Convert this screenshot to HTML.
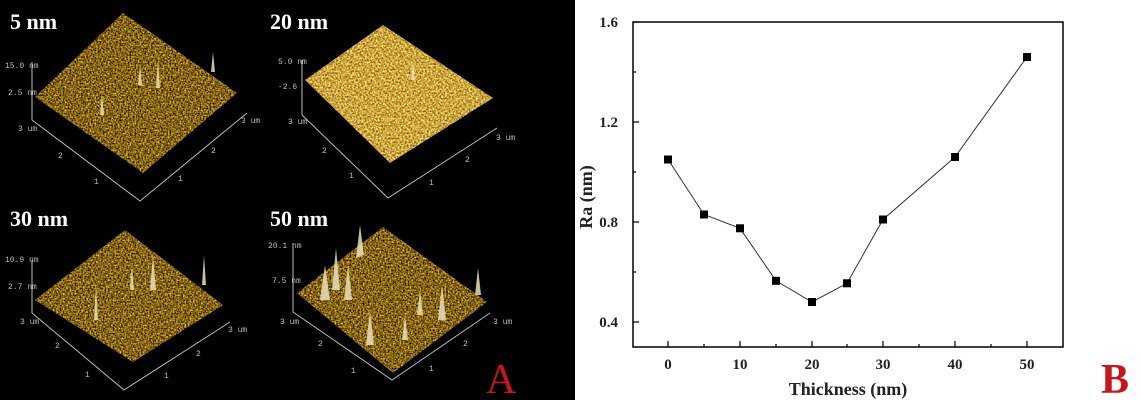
<!DOCTYPE html>
<html><head><meta charset="utf-8"><style>
html,body{margin:0;padding:0;background:#fff;width:1140px;height:400px;overflow:hidden}
svg{display:block}
</style></head><body>
<svg width="1140" height="400" viewBox="0 0 1140 400" xmlns="http://www.w3.org/2000/svg">
<defs>
<filter id="n1" x="0" y="0" width="100%" height="100%" color-interpolation-filters="sRGB"><feTurbulence type="fractalNoise" baseFrequency="0.6" numOctaves="2" seed="3"/>
<feColorMatrix type="matrix" values="1.6 0 0 0 -0.28  1.35 0 0 0 -0.28  0.6 0 0 0 -0.25  0 0 0 0 1"/><feComposite operator="in" in2="SourceAlpha"/></filter>
<filter id="n2" x="0" y="0" width="100%" height="100%" color-interpolation-filters="sRGB"><feTurbulence type="fractalNoise" baseFrequency="0.55" numOctaves="2" seed="7"/>
<feColorMatrix type="matrix" values="1.2 0 0 0 0.2  1.2 0 0 0 0.05  0.8 0 0 0 -0.15  0 0 0 0 1"/><feComposite operator="in" in2="SourceAlpha"/></filter>
</defs>
<rect x="0" y="0" width="575" height="400" fill="#000"/>
<g stroke="#bbb" stroke-width="1" fill="none">
<polyline points="32,120 140,201 247,113"/><line x1="32" y1="120" x2="32" y2="62"/>
<polyline points="302,115 388,198 497,128"/><line x1="302" y1="115" x2="302" y2="60"/>
<polyline points="32,313 124,390 230,322"/><line x1="32" y1="313" x2="32" y2="260"/>
<polyline points="293,312 392,380 490,313"/><line x1="293" y1="312" x2="293" y2="243"/>
</g>
<polygon points="123,13 237,93 143,173 35,97" fill="#fff" filter="url(#n1)"/>
<polygon points="383,25 493,98 390,163 305,80" fill="#fff" filter="url(#n2)"/>
<polygon points="125,230 223,305 133,362 35,300" fill="#fff" filter="url(#n1)"/>
<polygon points="383,227 487,302 393,373 297,293" fill="#fff" filter="url(#n1)"/>
<g fill="#e8e0c0" opacity="0.85">
<polygon points="158,60 160,88 156,88"/><polygon points="140,65 142,85 138,85"/><polygon points="213,52 215,72 211,72"/><polygon points="102,93 104,115 100,115"/>
<polygon points="413,60 415,80 411,80"/>
<polygon points="153,255 156,290 150,290"/><polygon points="132,265 134,290 130,290"/><polygon points="96,285 98,320 94,320"/><polygon points="204,255 206,285 202,285"/>
<polygon points="360,225 364,255 356,258"/><polygon points="336,248 340,290 332,290"/><polygon points="370,310 374,345 366,345"/><polygon points="442,285 446,320 438,320"/><polygon points="405,315 408,340 402,340"/><polygon points="478,268 481,295 475,295"/><polygon points="325,265 330,300 320,300"/><polygon points="348,265 352,300 344,300"/><polygon points="420,290 423,315 417,315"/>
</g>
<g font-family="Liberation Mono, monospace" font-size="8" fill="#bbb">
<text x="5" y="68">15.0 nm</text><text x="8" y="95">2.5 nm</text><text x="18" y="131">3 um</text><text x="241" y="123">3 um</text>
<text x="58" y="158">2</text><text x="94" y="184">1</text><text x="211" y="153">2</text><text x="178" y="181">1</text>
<text x="278" y="64">5.0 nm</text><text x="278" y="89">-2.6</text><text x="288" y="124">3 um</text><text x="496" y="140">3 um</text>
<text x="322" y="153">2</text><text x="349" y="178">1</text><text x="465" y="162">2</text><text x="429" y="185">1</text>
<text x="5" y="262">10.9 nm</text><text x="8" y="289">2.7 nm</text><text x="20" y="324">3 um</text><text x="228" y="332">3 um</text>
<text x="55" y="348">2</text><text x="85" y="377">1</text><text x="196" y="356">2</text><text x="164" y="378">1</text>
<text x="268" y="248">20.1 nm</text><text x="272" y="283">7.5 nm</text><text x="280" y="324">3 um</text><text x="493" y="324">3 um</text>
<text x="318" y="346">2</text><text x="351" y="373">1</text><text x="463" y="346">2</text><text x="429" y="371">1</text>
</g>
<g font-family="Liberation Serif, serif" font-weight="bold" font-size="22" fill="#fff">
<text x="10" y="29">5 nm</text><text x="270" y="29">20 nm</text><text x="10" y="226">30 nm</text><text x="270" y="226">50 nm</text>
</g>
<text x="486" y="393" font-family="Liberation Serif, serif" font-size="42" fill="#c8151b">A</text>

<rect x="633" y="22" width="430" height="325" fill="none" stroke="#000" stroke-width="1.5"/>
<g stroke="#000" stroke-width="1.2">
<line x1="633" y1="22" x2="639" y2="22"/><line x1="633" y1="122" x2="639" y2="122"/><line x1="633" y1="222" x2="639" y2="222"/><line x1="633" y1="322" x2="639" y2="322"/>
<line x1="633" y1="72" x2="636" y2="72"/><line x1="633" y1="172" x2="636" y2="172"/><line x1="633" y1="272" x2="636" y2="272"/>
<line x1="668" y1="347" x2="668" y2="341"/><line x1="740" y1="347" x2="740" y2="341"/><line x1="812" y1="347" x2="812" y2="341"/><line x1="883" y1="347" x2="883" y2="341"/><line x1="955" y1="347" x2="955" y2="341"/><line x1="1027" y1="347" x2="1027" y2="341"/>
<line x1="704" y1="347" x2="704" y2="344"/><line x1="776" y1="347" x2="776" y2="344"/><line x1="847" y1="347" x2="847" y2="344"/><line x1="919" y1="347" x2="919" y2="344"/><line x1="991" y1="347" x2="991" y2="344"/>
</g>
<g font-family="Liberation Serif, serif" font-weight="bold" font-size="15" fill="#222">
<g text-anchor="end"><text x="618" y="27">1.6</text><text x="618" y="127">1.2</text><text x="618" y="227">0.8</text><text x="618" y="327">0.4</text></g>
<g text-anchor="middle"><text x="668" y="369">0</text><text x="740" y="369">10</text><text x="812" y="369">20</text><text x="883" y="369">30</text><text x="955" y="369">40</text><text x="1027" y="369">50</text></g>
<text x="848" y="395" text-anchor="middle" font-size="18">Thickness (nm)</text>
<text transform="translate(592,197) rotate(-90)" text-anchor="middle" font-size="18">Ra (nm)</text>
</g>
<polyline fill="none" stroke="#333" stroke-width="1" points="668,159.5 704,214.5 740,228.3 776,280.8 812,302 847,283.3 883,219.5 955,157 1027,57"/>
<g fill="#000">
<rect x="664" y="155.5" width="8" height="8"/><rect x="700" y="210.5" width="8" height="8"/><rect x="736" y="224.3" width="8" height="8"/><rect x="772" y="276.8" width="8" height="8"/><rect x="808" y="298" width="8" height="8"/><rect x="843" y="279.3" width="8" height="8"/><rect x="879" y="215.5" width="8" height="8"/><rect x="951" y="153" width="8" height="8"/><rect x="1023" y="53" width="8" height="8"/>
</g>
<text x="1101" y="393" font-family="Liberation Serif, serif" font-weight="bold" font-size="42" fill="#c8151b">B</text>
</svg>
</body></html>
